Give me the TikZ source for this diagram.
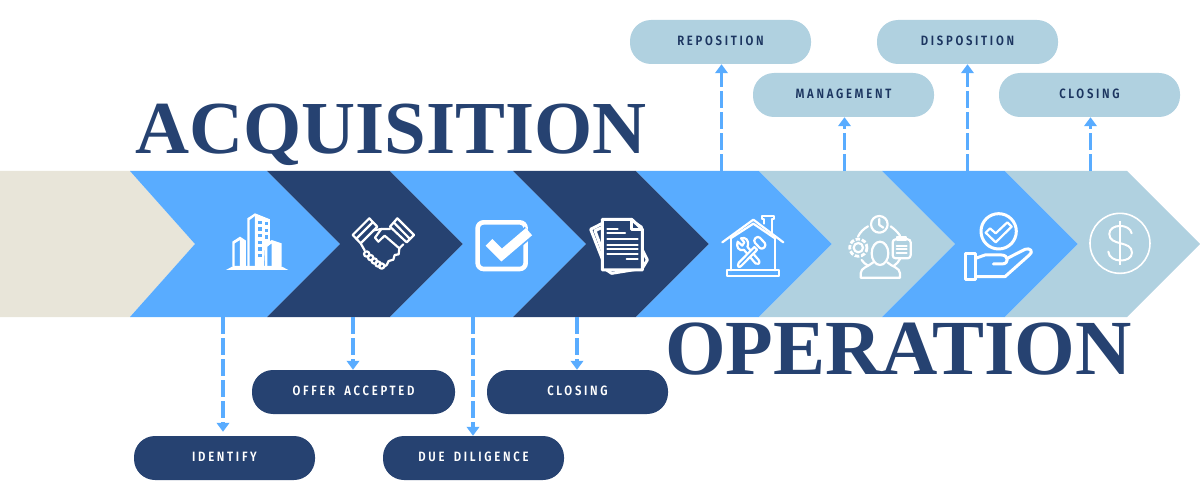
\documentclass[tikz,border=0pt]{standalone}
\usepackage{fontspec}
\setmainfont{Liberation Serif}
\newfontfamily\pillfont[FakeStretch=0.84,LetterSpace=20,WordSpace=1.7]{Fira Sans SemiBold}
\usetikzlibrary{arrows.meta}
\definecolor{cblue}{HTML}{59ACFF}
\definecolor{cdark}{HTML}{264271}
\definecolor{clight}{HTML}{B0D1E0}
\definecolor{cbeige}{HTML}{E8E5D9}
\definecolor{cink}{HTML}{1C3560}
\newcommand{\chev}[3]{\fill[#3] (#1,171) -- (#2,171) -- ({#2+73},244) -- (#2,317) -- (#1,317) -- ({#1+73},244) -- cycle;}
\tikzset{
  pill/.style={rectangle,rounded corners=21pt,minimum width=181pt,minimum height=44pt,inner sep=0pt,text height=6.5pt,text depth=0pt,font=\pillfont\fontsize{13.5}{15}\selectfont},
  pilldark/.style={pill,fill=cdark,text=white},
  pilllight/.style={pill,fill=clight,text=cink},
  dasharrow/.style={draw=cblue,line width=3.1pt,dash pattern=on 17pt off 4pt,-{Triangle[width=12.5pt,length=9pt]}},
  head/.style={text=cdark,inner sep=0pt,anchor=base west},
  ico/.style={draw=white,line width=3pt,line join=round,line cap=round},
  thin/.style={draw=white,line width=2.2pt,line join=round,line cap=round},
  zoomed/.style={x=.3333pt,y=-.3333pt}
}
\begin{document}
\begin{tikzpicture}[x=1pt,y=-1pt]
\useasboundingbox (0,0) rectangle (1200,500);
% band
\fill[cbeige] (0,171) -- (130,171) -- (195,244) -- (130,317) -- (0,317) -- cycle;
\fill[cblue] (130,171) -- (267,171) -- (340,244) -- (267,317) -- (130,317) -- (195,244) -- cycle;
\chev{267}{390}{cdark}
\chev{390}{513}{cblue}
\chev{513}{636}{cdark}
\chev{636}{759}{cblue}
\chev{759}{882}{clight}
\chev{882}{1005}{cblue}
\chev{1005}{1127}{clight}
% headings
\node[head] (acq) at (135,153.5) {\fontsize{74.8}{80}\selectfont\bfseries ACQUISITION};
\node[head] (ope) at (665,374.5) {\fontsize{78}{80}\selectfont\bfseries OPERATION};
% pills
\node[pilllight] (reposition) at (720.5,42) {REPOSITION};
\node[pilllight] (management) at (843.5,95) {MANAGEMENT};
\node[pilllight] (disposition) at (967.5,42) {DISPOSITION};
\node[pilllight] (closingb) at (1089.5,95) {CLOSING};
\node[pilldark] (identify) at (224.5,458) {IDENTIFY};
\node[pilldark,minimum width=203pt] (offer) at (353.5,392) {OFFER ACCEPTED};
\node[pilldark] (due) at (473.5,458) {DUE DILIGENCE};
\node[pilldark] (closinga) at (577.5,392) {CLOSING};
% connector ends
\coordinate (a1) at (223,317); \coordinate (a2) at (353,317);
\coordinate (a3) at (473,317); \coordinate (a4) at (577,317);
\coordinate (b1) at (721.5,171); \coordinate (b2) at (844.5,171);
\coordinate (b3) at (967.5,171); \coordinate (b4) at (1090.5,171);
\draw[dasharrow,shorten >=4pt] (a1) -- (a1 |- identify.north);
\draw[dasharrow] (a2) -- (a2 |- offer.north);
\draw[dasharrow] (a3) -- (a3 |- due.north);
\draw[dasharrow] (a4) -- (a4 |- closinga.north);
\draw[dasharrow] (b1) -- (b1 |- reposition.south);
\draw[dasharrow] (b2) -- (b2 |- management.south);
\draw[dasharrow] (b3) -- (b3 |- disposition.south);
\draw[dasharrow] (b4) -- (b4 |- closingb.south);
% icon: buildings
\begin{scope}[shift={(190,190)},zoomed]
\fill[white] (108,240) -- (295,240) -- (272,228) -- (130,228) -- cycle;
\fill[white] (195,70) -- (240,88) -- (240,165) -- (225,165) -- (222,228) -- (195,228) -- cycle;
\fill[white] (172,85) -- (195,70) -- (195,78) -- (179,90) -- (179,228) -- (172,228) -- cycle;
\fill[white] (127,155) -- (150,140) -- (168,152) -- (168,228) -- (150,228) -- (150,150) -- (134,160) -- (134,228) -- (127,228) -- cycle;
\fill[white] (225,165) -- (245,150) -- (275,160) -- (275,228) -- (245,228) -- (245,160) -- (232,170) -- (232,228) -- (225,228) -- cycle;
\foreach \yy in {92,112,132,152,172,192} \fill[cblue] (205,\yy) rectangle +(10,10);
\foreach \yy in {96,116,136} \fill[cblue] (224,\yy) rectangle +(10,10);
\end{scope}
% icon: handshake
\begin{scope}[shift={(340,205)},zoomed]
\draw[thin] (38,90) -- (88,40) -- (112,65) -- (62,115) -- cycle (50,100) -- (98,52);
\draw[thin] (150,65) -- (172,40) -- (222,90) -- (200,112) -- cycle (162,53) -- (210,102);
\draw[thin] (100,76) -- (124,72);
\draw[thin] (150,72) -- (124,72) -- (105,98) -- (115,110) -- (134,92) -- (178,130) -- (190,118);
\draw[thin] (178,130) -- (176,148) -- (164,150) -- (160,164) -- (146,168) -- (140,180) -- (131,186);
\draw[thin] (62,115) -- (74,136);
\foreach \cx/\cy in {80/147,92/158,103/168,114/177,125/183} \draw[thin] (\cx,\cy) circle (8);
\end{scope}
% icon: checkbox
\begin{scope}[shift={(465,205)},zoomed]
\draw[draw=white,line width=4.6pt,rounded corners=6pt] (38,52) rectangle (182,192);
\draw[draw=cblue,line width=13pt] (72,112) -- (110,150) -- (192,80);
\draw[draw=white,line width=9.5pt] (72,112) -- (110,150) -- (192,80);
\end{scope}
% icon: documents
\begin{scope}[shift={(570,190)},zoomed]
\draw[ico] (97,100) -- (62,118) -- (110,240) -- (125,250) -- (217,235) -- (232,210) -- (217,180);
\draw[ico] (97,112) -- (75,122) -- (100,190);
\draw[ico] (190,95) -- (215,112);
\draw[ico,fill=cdark] (97,88) -- (185,88) -- (217,118) -- (217,240) -- (97,240) -- cycle;
\draw[ico] (185,88) -- (185,118) -- (217,118);
\draw[thin] (112,118) -- (143,118) (112,130) -- (165,130) (112,148) -- (203,148) (112,165) -- (203,165) (112,178) -- (203,178) (112,192) -- (203,192) (170,207) -- (203,207);
\end{scope}
% icon: house
\begin{scope}[shift={(715,205)},zoomed]
\draw[thin] (22,112) -- (115,44) -- (205,112);
\draw[thin] (47,100) -- (115,56) -- (180,100);
\draw[thin] (47,100) -- (47,196) (180,100) -- (180,196);
\draw[thin] (37,196) rectangle (192,213);
\draw[thin] (148,56) -- (148,42) -- (140,42) -- (140,33) -- (178,33) -- (178,42) -- (170,42) -- (170,84);
\draw[thin] (97.3,125.5) -- (132.3,166.5) .. controls (136,176) and (128,180) .. (121.7,175.5) -- (86.7,134.5) .. controls (72,140) and (62,125) .. (68,110) -- (82,122) -- (88,112) -- (78,100) .. controls (90,95) and (105,105) .. (97.3,125.5);
\draw[thin,fill=cblue] (70.8,173.8) -- (118,126) -- (126.4,134.4) -- (79.2,182.2) .. controls (72,190) and (66,185) .. (70.8,173.8);
\draw[thin,fill=cblue,rounded corners=3pt] (155,120) -- (140,135) -- (114,107) -- (129,92) -- cycle;
\end{scope}
% icon: people
\begin{scope}[shift={(840,205)},zoomed]
\draw[thin] (118,58) circle (25);
\draw[thin] (118,42) -- (118,60) -- (130,68);
\draw[thin] (54,95) .. controls (60,82) and (70,72) .. (84,64);
\draw[thin] (152,64) .. controls (163,72) and (172,80) .. (180,92);
\draw[thin] (65,165) .. controls (70,172) and (76,178) .. (84,182);
\draw[thin] (162,182) .. controls (170,176) and (175,172) .. (180,162);
\draw[thin] (55,128) circle (14);
\draw[thin,dash pattern=on 4.5pt off 1.8pt,line cap=butt,line width=2.8pt] (55,128) circle (26);
\draw[thin,rounded corners=3pt] (158,103) rectangle (212,160);
\draw[thin] (172,102) -- (172,96) -- (198,96) -- (198,106) -- (172,106) -- cycle;
\draw[thin] (170,122) -- (200,122) (170,133) -- (200,133) (170,145) -- (200,145);
\draw[thin] (120,145) ellipse (25 and 35);
\draw[thin] (100,172) .. controls (85,185) and (62,188) .. (62,205) -- (62,218) -- (180,218) -- (180,205) .. controls (180,188) and (155,185) .. (142,172);
\end{scope}
% icon: hand
\begin{scope}[shift={(930,190)},zoomed]
\draw[ico] (206,124) circle (53);
\draw[thin] (167,128) -- (180,115) -- (197,130) -- (232,97) -- (245,110) -- (197,157) -- cycle;
\draw[ico] (105,190) rectangle (137,270);
\draw[ico] (137,205) -- (165,195) -- (215,195) .. controls (235,195) and (240,222) .. (215,222) -- (190,222);
\draw[ico] (232,205) -- (285,178) .. controls (300,172) and (312,185) .. (298,195) -- (225,260) -- (137,260);
\end{scope}
% icon: dollar
\begin{scope}[shift={(930,190)},zoomed]
\draw[draw=white,line width=1.6pt] (570,160) circle (90);
\draw[draw=white,line width=1.6pt] (570,92) -- (570,225);
\draw[draw=white,line width=2pt,line cap=round] (605,130) .. controls (600,100) and (538,100) .. (538,132) .. controls (538,170) and (606,150) .. (606,188) .. controls (606,220) and (538,220) .. (535,185);
\end{scope}
\end{tikzpicture}
\end{document}
